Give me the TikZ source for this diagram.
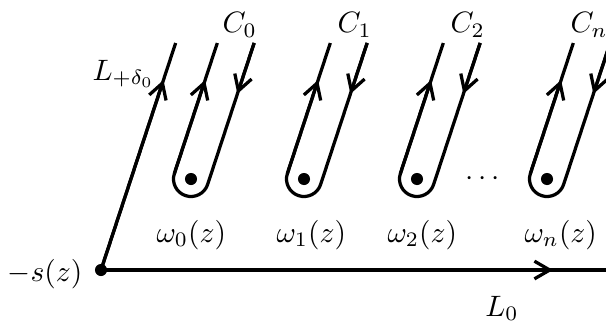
\documentclass[tikz,border=0pt]{standalone}
\usetikzlibrary{arrows.meta,calc}
\begin{document}
\begin{tikzpicture}[x=0.339pt,y=0.339pt,
  curve/.style={line width=1.1pt},
  arr/.style={line width=1.1pt,-{Straight Barb[length=5.2pt,width=6pt,line width=1.1pt]}},
  lab/.style={inner sep=0pt,anchor=base west},
  pt/.style={fill=black,circle,inner sep=0pt,minimum size=4.1pt}]
\useasboundingbox (0,0) rectangle (606,324);
% origin point and main lines
\node[pt] (S) at (101,54) {};
\coordinate (Ltop) at ($(S)+(71.8:239)$);
\coordinate (Ltip) at ($(S)+(71.8:200)$);
\coordinate (Hend) at (615,54);
\coordinate (Htip) at (553,54);
\draw[curve] (S.center) -- (Ltop);
\draw[arr] (S.center) -- (Ltip);
\draw[curve] (S.center) -- (Hend);
\draw[arr] (S.center) -- (Htip);
\node[inner sep=0pt,anchor=east] (s) at (83,50) {$-s(z)$};
\node[lab] (Ld) at (92,244) {$L_{+\delta_0}$};
\node[inner sep=0pt,anchor=base] (L0) at (502,7.5) {$L_0$};
% contours
\foreach \cx/\k in {191/0,304/1,417/2,547/n}{
  \node[pt] (w\k) at (\cx,145) {};
  \coordinate (PL\k) at ($(w\k.center)+(161.8:17.5)$);
  \coordinate (PR\k) at ($(w\k.center)+(-18.2:17.5)$);
  \coordinate (LT\k) at ($(PL\k)+(71.8:137.4)$);
  \coordinate (RT\k) at ($(PR\k)+(71.8:149)$);
  \draw[curve] (RT\k) -- (PR\k) arc[start angle=-18.2,end angle=-198.2,radius=17.5] -- (LT\k);
  \draw[arr] (PL\k) -- ($(PL\k)+(71.8:98.4)$);
  \draw[arr] (RT\k) -- ($(RT\k)+(-108.2:53.7)$);
}
\node[lab] (c0) at (222,291.3) {$C_0$};
\node[lab] (c1) at (337,291.3) {$C_1$};
\node[lab] (c2) at (450,291.3) {$C_2$};
\node[lab] (cn) at (570,291.3) {$C_n$};
\node[lab] (o0) at (156,81.7) {$\omega_0(z)$};
\node[lab] (o1) at (276,81.7) {$\omega_1(z)$};
\node[lab] (o2) at (387,81.7) {$\omega_2(z)$};
\node[lab] (on) at (524,81.7) {$\omega_n(z)$};
\node[inner sep=0pt,anchor=base] (dots) at (483,138.6) {$\cdots$};
\end{tikzpicture}
\end{document}
